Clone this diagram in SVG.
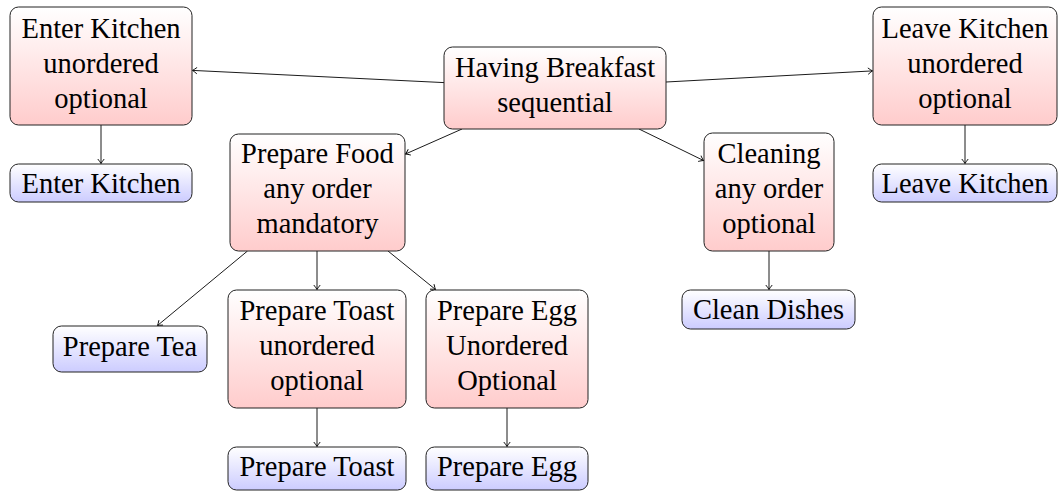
<svg xmlns="http://www.w3.org/2000/svg" width="1058" height="491" viewBox="0 0 1058 491">
<defs>
<linearGradient id="gr" x1="0" y1="0" x2="0" y2="1"><stop offset="0" stop-color="#ffffff"/><stop offset="1" stop-color="#ffcccc"/></linearGradient>
<linearGradient id="gb" x1="0" y1="0" x2="0" y2="1"><stop offset="0" stop-color="#ffffff"/><stop offset="1" stop-color="#ccccff"/></linearGradient>
<marker id="ah" viewBox="-6 -4 7 8" refX="0" refY="0" markerWidth="7" markerHeight="8" markerUnits="userSpaceOnUse" orient="auto">
<path d="M -4.5 -3.2 Q -1.2 -0.6 0 0 Q -1.2 0.6 -4.5 3.2" fill="none" stroke="#000" stroke-width="0.9"/>
</marker>
</defs>
<style>
.r{fill:url(#gr);stroke:#222;stroke-width:1}
.b{fill:url(#gb);stroke:#222;stroke-width:1}
.e{stroke:#000;stroke-width:0.9;fill:none;marker-end:url(#ah)}
</style>
<g id="connectors">
<line class="e" x1="444" y1="82.6" x2="192.5" y2="70.4"/>
<line class="e" x1="666" y1="82" x2="872.5" y2="70.9"/>
<line class="e" x1="462" y1="129" x2="405.5" y2="154"/>
<line class="e" x1="639" y1="129" x2="703.5" y2="160.5"/>
<line class="e" x1="101" y1="125" x2="101" y2="163.5"/>
<line class="e" x1="965" y1="125" x2="965" y2="163.5"/>
<line class="e" x1="247.5" y1="251" x2="157.5" y2="325.5"/>
<line class="e" x1="317" y1="251" x2="317" y2="289.5"/>
<line class="e" x1="388" y1="251" x2="435.5" y2="289.5"/>
<line class="e" x1="769" y1="251" x2="769" y2="289.5"/>
<line class="e" x1="317" y1="408" x2="317" y2="446.5"/>
<line class="e" x1="507" y1="408" x2="507" y2="446.5"/>
</g>
<g font-family="Liberation Serif, Times New Roman, Times, Tinos, Noto Serif, DejaVu Serif, FreeSerif, serif" font-size="28.5" text-anchor="middle" fill="#000">
<g id="enter-kitchen-group"><rect class="r" x="10" y="7" width="182" height="118" rx="8.5"/><text x="101" y="38">Enter Kitchen</text><text x="101" y="73">unordered</text><text x="101" y="108">optional</text></g>
<g id="having-breakfast"><rect class="r" x="444" y="47" width="222" height="82" rx="8.5"/><text x="555" y="77">Having Breakfast</text><text x="555" y="112">sequential</text></g>
<g id="leave-kitchen-group"><rect class="r" x="873" y="7" width="184" height="118" rx="8.5"/><text x="965" y="38">Leave Kitchen</text><text x="965" y="73">unordered</text><text x="965" y="108">optional</text></g>
<g id="enter-kitchen"><rect class="b" x="10" y="164" width="182" height="38" rx="8.5"/><text x="101" y="193">Enter Kitchen</text></g>
<g id="leave-kitchen"><rect class="b" x="873" y="164" width="184" height="38" rx="8.5"/><text x="965" y="193">Leave Kitchen</text></g>
<g id="prepare-food"><rect class="r" x="230" y="134" width="175" height="117" rx="8.5"/><text x="317.5" y="163">Prepare Food</text><text x="317.5" y="198">any order</text><text x="317.5" y="233">mandatory</text></g>
<g id="cleaning"><rect class="r" x="704" y="133" width="130" height="118" rx="8.5"/><text x="769" y="163">Cleaning</text><text x="769" y="198">any order</text><text x="769" y="233">optional</text></g>
<g id="clean-dishes"><rect class="b" x="682" y="290" width="173" height="39" rx="8.5"/><text x="768.5" y="319">Clean Dishes</text></g>
<g id="prepare-tea"><rect class="b" x="53" y="326" width="154" height="46" rx="8.5"/><text x="130" y="356">Prepare Tea</text></g>
<g id="prepare-toast-group"><rect class="r" x="228" y="290" width="178" height="118" rx="8.5"/><text x="317" y="320">Prepare Toast</text><text x="317" y="355">unordered</text><text x="317" y="390">optional</text></g>
<g id="prepare-egg-group"><rect class="r" x="426" y="290" width="162" height="118" rx="8.5"/><text x="507" y="320">Prepare Egg</text><text x="507" y="355">Unordered</text><text x="507" y="390">Optional</text></g>
<g id="prepare-toast"><rect class="b" x="228" y="447" width="178" height="43" rx="8.5"/><text x="317" y="476">Prepare Toast</text></g>
<g id="prepare-egg"><rect class="b" x="426" y="447" width="162" height="43" rx="8.5"/><text x="507" y="476">Prepare Egg</text></g>
</g>
</svg>
